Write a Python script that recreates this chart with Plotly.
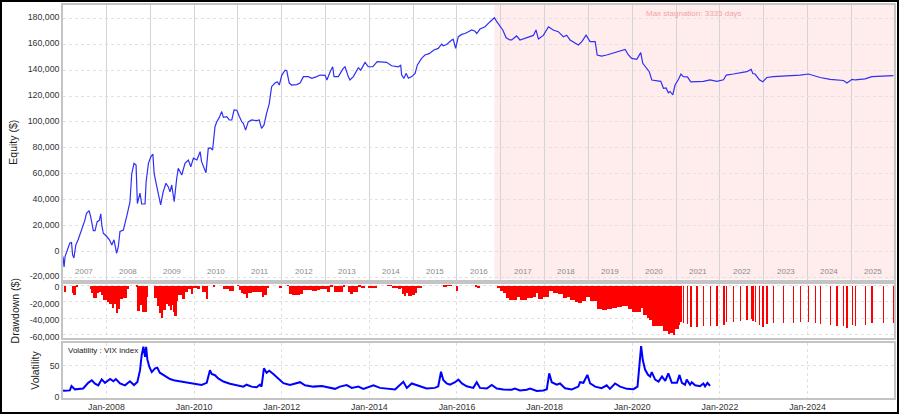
import plotly.graph_objects as go
import pandas as pd

# ---------------- data ----------------
equity_dates = [
    "2007-01-04", "2007-01-13", "2007-01-21", "2007-03-02", "2007-03-16", "2007-03-25", "2007-04-05",
    "2007-04-21", "2007-05-10", "2007-06-08", "2007-07-05", "2007-07-19", "2007-08-10", "2007-08-22",
    "2007-09-01", "2007-09-14", "2007-09-28", "2007-10-16", "2007-11-03", "2007-11-15", "2007-11-23",
    "2007-12-06", "2008-01-04", "2008-01-26", "2008-02-15", "2008-03-04", "2008-03-26", "2008-04-09",
    "2008-04-23", "2008-05-21", "2008-06-18", "2008-07-07", "2008-07-15", "2008-07-30", "2008-08-18",
    "2008-09-04", "2008-09-15", "2008-10-07", "2008-10-21", "2008-11-18", "2008-11-27", "2008-12-16",
    "2009-01-05", "2009-01-22", "2009-02-02", "2009-02-24", "2009-03-16", "2009-03-28", "2009-04-18",
    "2009-05-11", "2009-05-30", "2009-06-14", "2009-06-28", "2009-07-11", "2009-07-19", "2009-08-09",
    "2009-08-22", "2009-09-20", "2009-10-17", "2009-11-14", "2009-12-04", "2009-12-26", "2010-01-24",
    "2010-02-20", "2010-03-04", "2010-04-10", "2010-04-29", "2010-05-18", "2010-06-04", "2010-06-24",
    "2010-07-08", "2010-07-30", "2010-08-19", "2010-09-02", "2010-09-30", "2010-10-21", "2010-11-11",
    "2010-11-30", "2010-12-23", "2011-01-14", "2011-02-03", "2011-02-15", "2011-03-06", "2011-03-28",
    "2011-04-25", "2011-06-06", "2011-06-28", "2011-07-17", "2011-08-06", "2011-08-28", "2011-09-19",
    "2011-10-09", "2011-11-06", "2011-11-25", "2011-12-12", "2012-01-02", "2012-01-29", "2012-02-12",
    "2012-03-04", "2012-03-24", "2012-05-05", "2012-06-02", "2012-06-30", "2012-08-10", "2012-09-08",
    "2012-10-19", "2012-11-16", "2012-12-28", "2013-01-12", "2013-02-08", "2013-03-01", "2013-03-12",
    "2013-04-17", "2013-05-28", "2013-06-12", "2013-07-09", "2013-07-23", "2013-08-20", "2013-10-01",
    "2013-10-21", "2013-11-26", "2013-12-23", "2014-01-30", "2014-03-07", "2014-04-13", "2014-05-24",
    "2014-07-05", "2014-08-30", "2014-09-19", "2014-09-27", "2014-10-16", "2014-11-03", "2014-11-22",
    "2014-12-20", "2015-01-17", "2015-02-05", "2015-03-12", "2015-04-09", "2015-05-14", "2015-06-23",
    "2015-07-29", "2015-08-26", "2015-09-09", "2015-10-07", "2015-11-18", "2015-12-01", "2015-12-21",
    "2016-01-12", "2016-02-10", "2016-03-08", "2016-04-05", "2016-05-03", "2016-05-31", "2016-06-14",
    "2016-07-11", "2016-08-22", "2016-10-03", "2016-11-08", "2016-11-28", "2016-12-25", "2017-01-17",
    "2017-02-14", "2017-03-17", "2017-04-01", "2017-05-12", "2017-06-09", "2017-08-04", "2017-09-29",
    "2017-10-21", "2017-11-10", "2017-12-21", "2018-02-02", "2018-03-13", "2018-04-24", "2018-06-06",
    "2018-07-03", "2018-08-01", "2018-09-12", "2018-10-09", "2018-11-07", "2018-12-12", "2019-01-15",
    "2019-02-26", "2019-03-15", "2019-04-21", "2019-06-02", "2019-07-13", "2019-08-25", "2019-10-06",
    "2019-11-03", "2019-11-30", "2019-12-28", "2020-02-08", "2020-03-12", "2020-03-29", "2020-05-01",
    "2020-05-22", "2020-06-12", "2020-07-23", "2020-08-26", "2020-09-17", "2020-10-09", "2020-10-28",
    "2020-11-12", "2020-12-04", "2020-12-23", "2021-01-21", "2021-02-10", "2021-03-02", "2021-04-05",
    "2021-05-03", "2021-06-22", "2021-08-16", "2021-10-11", "2021-12-06", "2022-01-31", "2022-02-23",
    "2022-04-23", "2022-06-18", "2022-08-13", "2022-09-18", "2022-10-02", "2022-10-21", "2022-11-26",
    "2022-12-24", "2023-01-27", "2023-03-22", "2023-06-14", "2023-09-06", "2023-11-01", "2024-01-09",
    "2024-03-04", "2024-04-15", "2024-07-07", "2024-09-02", "2024-10-27", "2024-11-25", "2025-01-06",
    "2025-02-03", "2025-04-25", "2025-06-20", "2025-09-25", "2025-12-17",
]
equity_values = [
    -4000, -12000, -4000, 6500, 6800, -2700, -5000,
    5000, 9000, 16500, 24000, 29500, 31500, 27000,
    23000, 16000, 16000, 23000, 24000, 29000, 20500,
    14000, 11500, 9000, 5000, 9000, -1500, 3600,
    15500, 16500, 27000, 37000, 38000, 60000, 68000,
    66700, 37000, 45000, 36600, 36600, 54000, 68000,
    73000, 75200, 60000, 50000, 42000, 36000, 46000,
    52600, 50000, 46000, 51300, 42800, 38400, 56500,
    64200, 59000, 68000, 70600, 65400, 72000, 70600,
    77000, 69300, 60800, 79600, 80000, 78300, 96300,
    100000, 103500, 108000, 103500, 104000, 101500, 101500,
    109200, 109000, 104000, 100000, 99000, 93700, 100000,
    101500, 101000, 101500, 95000, 97500, 106600, 114000,
    127200, 130000, 131000, 128500, 136200, 140000, 139500,
    130000, 128500, 128800, 130000, 135000, 135000, 133700,
    135000, 136200, 136000, 132400, 138800, 142600, 135000,
    135000, 141400, 142600, 135000, 132400, 135000, 141900,
    140000, 146000, 142600, 142600, 146500, 146500, 146000,
    143400, 142600, 143700, 136200, 133700, 137500, 133700,
    135000, 137500, 144000, 149100, 151700, 152700, 155500,
    156800, 160000, 158800, 159800, 163300, 163800, 156800,
    165800, 167600, 168300, 169700, 171000, 170000, 168300,
    171700, 173500, 177400, 180500, 177400, 173500, 171000,
    165000, 163300, 163300, 166400, 163300, 165300, 166800,
    171000, 164000, 166800, 173500, 171000, 169700, 165800,
    167000, 163300, 161200, 159400, 162000, 167000, 162000,
    162000, 151700, 150900, 151700, 153000, 154200, 155500,
    156000, 151700, 149100, 148300, 153500, 145300, 141400,
    138800, 132400, 132000, 131300, 126000, 126200, 122500,
    123500, 120800, 128500, 132900, 137000, 135000, 134800,
    131000, 131000, 131300, 132400, 131300, 132500, 136200,
    137000, 137800, 138800, 140600, 137400, 137000, 132500,
    131000, 134300, 135000, 135500, 135500, 136200, 137000,
    135500, 134300, 132900, 132400, 132000, 130000, 132900,
    132400, 133200, 135000, 135500, 135700,
]

vix_dates = [
    "2007-01-04", "2007-01-13", "2007-03-02", "2007-03-16", "2007-04-13", "2007-06-21", "2007-08-02",
    "2007-09-01", "2007-09-28", "2007-10-25", "2007-11-23", "2007-12-20", "2008-02-01", "2008-02-28",
    "2008-03-20", "2008-04-23", "2008-06-04", "2008-07-15", "2008-08-18", "2008-09-15", "2008-10-07",
    "2008-10-21", "2008-11-04", "2008-11-18", "2008-11-27", "2008-12-07", "2008-12-24", "2009-01-13",
    "2009-02-10", "2009-02-28", "2009-03-21", "2009-05-03", "2009-06-14", "2009-07-25", "2009-09-06",
    "2009-10-17", "2009-12-12", "2010-01-24", "2010-03-04", "2010-04-16", "2010-05-13", "2010-05-27",
    "2010-06-24", "2010-07-21", "2010-09-02", "2010-10-27", "2010-12-23", "2011-02-15", "2011-03-14",
    "2011-04-25", "2011-06-06", "2011-07-04", "2011-07-17", "2011-08-06", "2011-08-28", "2011-09-19",
    "2011-10-23", "2011-11-20", "2011-12-18", "2012-01-15", "2012-03-10", "2012-05-05", "2012-06-02",
    "2012-07-13", "2012-09-21", "2012-12-01", "2013-01-12", "2013-03-20", "2013-05-01", "2013-06-26",
    "2013-08-07", "2013-10-01", "2013-11-12", "2014-02-04", "2014-03-30", "2014-06-22", "2014-08-03",
    "2014-10-11", "2014-11-09", "2014-12-20", "2015-01-17", "2015-02-28", "2015-04-23", "2015-07-01",
    "2015-07-29", "2015-08-21", "2015-09-09", "2015-10-07", "2015-11-04", "2015-12-16", "2016-01-13",
    "2016-02-11", "2016-03-22", "2016-05-16", "2016-06-14", "2016-07-11", "2016-09-06", "2016-10-17",
    "2016-11-28", "2017-01-22", "2017-04-01", "2017-04-28", "2017-06-09", "2017-08-04", "2017-09-02",
    "2017-10-27", "2017-12-21", "2018-01-19", "2018-02-08", "2018-03-01", "2018-04-11", "2018-05-09",
    "2018-06-20", "2018-08-15", "2018-10-09", "2018-10-23", "2018-11-20", "2018-12-23", "2019-01-15",
    "2019-02-26", "2019-04-21", "2019-06-02", "2019-06-29", "2019-08-11", "2019-09-22", "2019-11-17",
    "2020-01-11", "2020-02-14", "2020-03-01", "2020-03-15", "2020-03-29", "2020-04-17", "2020-05-10",
    "2020-05-29", "2020-06-12", "2020-07-10", "2020-08-07", "2020-09-05", "2020-10-02", "2020-10-28",
    "2020-11-26", "2021-01-08", "2021-01-29", "2021-02-18", "2021-03-16", "2021-03-30", "2021-04-27",
    "2021-05-11", "2021-06-08", "2021-07-19", "2021-08-16", "2021-08-30", "2021-09-19", "2021-10-11",
]
vix_values = [
    11, 10.5, 11, 18, 12.7, 14, 23,
    27, 21.5, 19, 28.5, 23, 29, 25.5,
    29, 22, 19, 25.5, 19.5, 24.5, 43,
    67, 80, 64, 80, 60, 48, 40,
    46, 47, 39, 34, 29, 26.5, 25,
    24, 22, 20, 19.5, 23, 43, 37,
    35, 30, 25, 21.5, 19, 17, 20,
    17, 16, 20, 17, 46, 39, 42,
    37, 32, 27, 22.5, 19.5, 22, 24,
    19, 17, 18, 16, 13.5, 17, 19.5,
    15, 17, 13.5, 19, 15, 13, 12.5,
    24.7, 15, 22, 20, 17.5, 14, 15,
    17.5, 40.5, 27.5, 22, 20, 24, 28,
    22, 17.5, 15, 24, 15, 14, 19.5,
    14, 12.5, 12, 14, 11, 12, 14,
    10, 11, 13, 38, 24, 20, 22,
    14.5, 12.5, 17, 24, 23, 35.5, 22,
    17, 14.5, 19, 13.5, 22, 17, 13.5,
    13, 17, 59, 81, 59, 44, 36,
    33, 40, 28, 25, 33, 26, 38,
    23, 23, 35.5, 23, 20, 28, 20,
    24, 19, 17.5, 22, 17.5, 23, 18,
]

year_labels = list(range(2007, 2026))
stagnation_text = "Max stagnation: 3335 days"
vix_text = "Volatility : VIX index"
X_START, X_END = "2007-01-04", "2025-12-22"

# ---------------- derived series ----------------
eq = pd.Series(equity_values, index=pd.to_datetime(equity_dates))
drawdown = eq - eq.cummax()
peak_date = eq.idxmax()
end_ts = pd.Timestamp(X_END)
DAY_MS = 86400000.0
gaps = [(b - a).total_seconds() * 1000 for a, b in zip(eq.index[:-1], eq.index[1:])] + [4 * DAY_MS]
bar_w = [g if d < pd.Timestamp("2021-01-01") else 4 * DAY_MS for g, d in zip(gaps, eq.index)]

# ---------------- figure ----------------
W, H = 900, 415
ML, MR, MT, MB = 63, 6, 5, 17
PW, PH = W - ML - MR, H - MT - MB
FONT = "Liberation Sans, Arial, sans-serif"

fig = go.Figure()
fig.add_trace(go.Scatter(x=eq.index, y=eq.values, mode="lines",
                         line=dict(color="#2f2ff5", width=1.2),
                         xaxis="x", yaxis="y", showlegend=False))
fig.add_trace(go.Bar(x=drawdown.index, y=drawdown.values, width=bar_w, offset=0,
                     marker=dict(color="#ff0000", line=dict(width=0)),
                     xaxis="x2", yaxis="y2", showlegend=False))
fig.add_trace(go.Scatter(x=pd.to_datetime(vix_dates), y=vix_values, mode="lines",
                         line=dict(color="#0000ff", width=2),
                         xaxis="x3", yaxis="y3", showlegend=False))

border = dict(showline=True, mirror=True, linecolor="#c4c4c4", linewidth=1.5, automargin=False)
tickfont = dict(family=FONT, size=8.8, color="#333333")
titlefont = dict(family=FONT, size=10.5, color="#222222")
hgrid = dict(showgrid=True, gridcolor="#e0e0e0", gridwidth=1, griddash="3px,3px")

eq_ticks = list(range(-20000, 180001, 20000))
dd_ticks = [0, -20000, -40000, -60000]

fig.update_layout(
    width=W, height=H,
    margin=dict(l=ML, r=MR, t=MT, b=MB, autoexpand=False),
    paper_bgcolor="white", plot_bgcolor="white",
    font=dict(family=FONT, size=9, color="#333333"),
    bargap=0,
    xaxis=dict(domain=[0, 1], anchor="y", type="date", range=[X_START, X_END],
               showticklabels=False, ticks="", tick0="2007-01-01", dtick="M12",
               showgrid=True, gridcolor="#d4d4d4", gridwidth=1.2, zeroline=False, **border),
    yaxis=dict(domain=[0.3015, 1], anchor="x", range=[-21700, 190300],
               tickvals=eq_ticks, ticktext=[f"{v:,}" for v in eq_ticks],
               tickfont=tickfont, ticks="", zeroline=False, ticklabelshift=-1,
               title=dict(text="Equity ($)", font=titlefont, standoff=8), **hgrid, **border),
    xaxis2=dict(domain=[0, 1], anchor="y2", type="date", matches="x", range=[X_START, X_END],
                showticklabels=False, ticks="", tick0="2008-01-01", dtick="M24",
                showgrid=True, gridcolor="#e0e0e0", griddash="3px,3px", zeroline=False, **border),
    yaxis2=dict(domain=[0.1527, 0.2913], anchor="x2", range=[-63600, 1800],
                tickvals=dd_ticks, ticktext=[f"{v:,}" for v in dd_ticks],
                tickfont=tickfont, ticks="", zeroline=False, ticklabelshift=2,
                title=dict(text="Drawdown ($)", font=titlefont, standoff=8), **hgrid, **border),
    xaxis3=dict(domain=[0, 1], anchor="y3", type="date", matches="x", range=[X_START, X_END],
                tickformat="%b-%Y", tick0="2008-01-01", dtick="M24", ticks="",
                tickfont=tickfont, showgrid=True, gridcolor="#e0e0e0", griddash="3px,3px",
                zeroline=False, **border),
    yaxis3=dict(domain=[0, 0.14], anchor="x3", range=[-1, 86], tickvals=[0, 50],
                tickfont=tickfont, ticks="", zeroline=False,
                title=dict(text="Volatility", font=titlefont, standoff=8), **hgrid, **border),
)

shapes = [
    dict(type="rect", xref="x", yref="y domain", x0=peak_date, x1=X_END, y0=0, y1=1,
         fillcolor="rgba(255,0,0,0.075)", line=dict(width=0), layer="below"),
    dict(type="rect", xref="paper", yref="paper",
         x0=(1 - ML) / PW, x1=(W - 2 - ML) / PW,
         y0=-(MB - 2) / PH, y1=1 + (MT - 1) / PH,
         line=dict(color="black", width=2), fillcolor="rgba(0,0,0,0)"),
]
fig.update_layout(shapes=shapes)

annotations = []
for yr in year_labels:
    annotations.append(dict(x=f"{yr}-07-02", y=0.004, xref="x", yref="y domain",
                            text=str(yr), showarrow=False, yanchor="bottom",
                            font=dict(family=FONT, size=8, color="#8c8c8c")))
mid_stag = peak_date + (end_ts - peak_date) / 2
annotations.append(dict(x=mid_stag, y=1, xref="x", yref="y domain", yanchor="top", yshift=-2,
                        text=stagnation_text, showarrow=False,
                        font=dict(family=FONT, size=8, color="#f4a4a4")))
annotations.append(dict(x=0.004, y=1, xref="x3 domain", yref="y3 domain", xanchor="left",
                        yanchor="top", yshift=-1, text=vix_text, showarrow=False,
                        font=dict(family=FONT, size=8, color="#222222")))
fig.update_layout(annotations=annotations)

fig.write_html("out.html", config={"displayModeBar": False},
               post_script="document.body.style.margin='0';document.body.style.overflow='hidden';")
